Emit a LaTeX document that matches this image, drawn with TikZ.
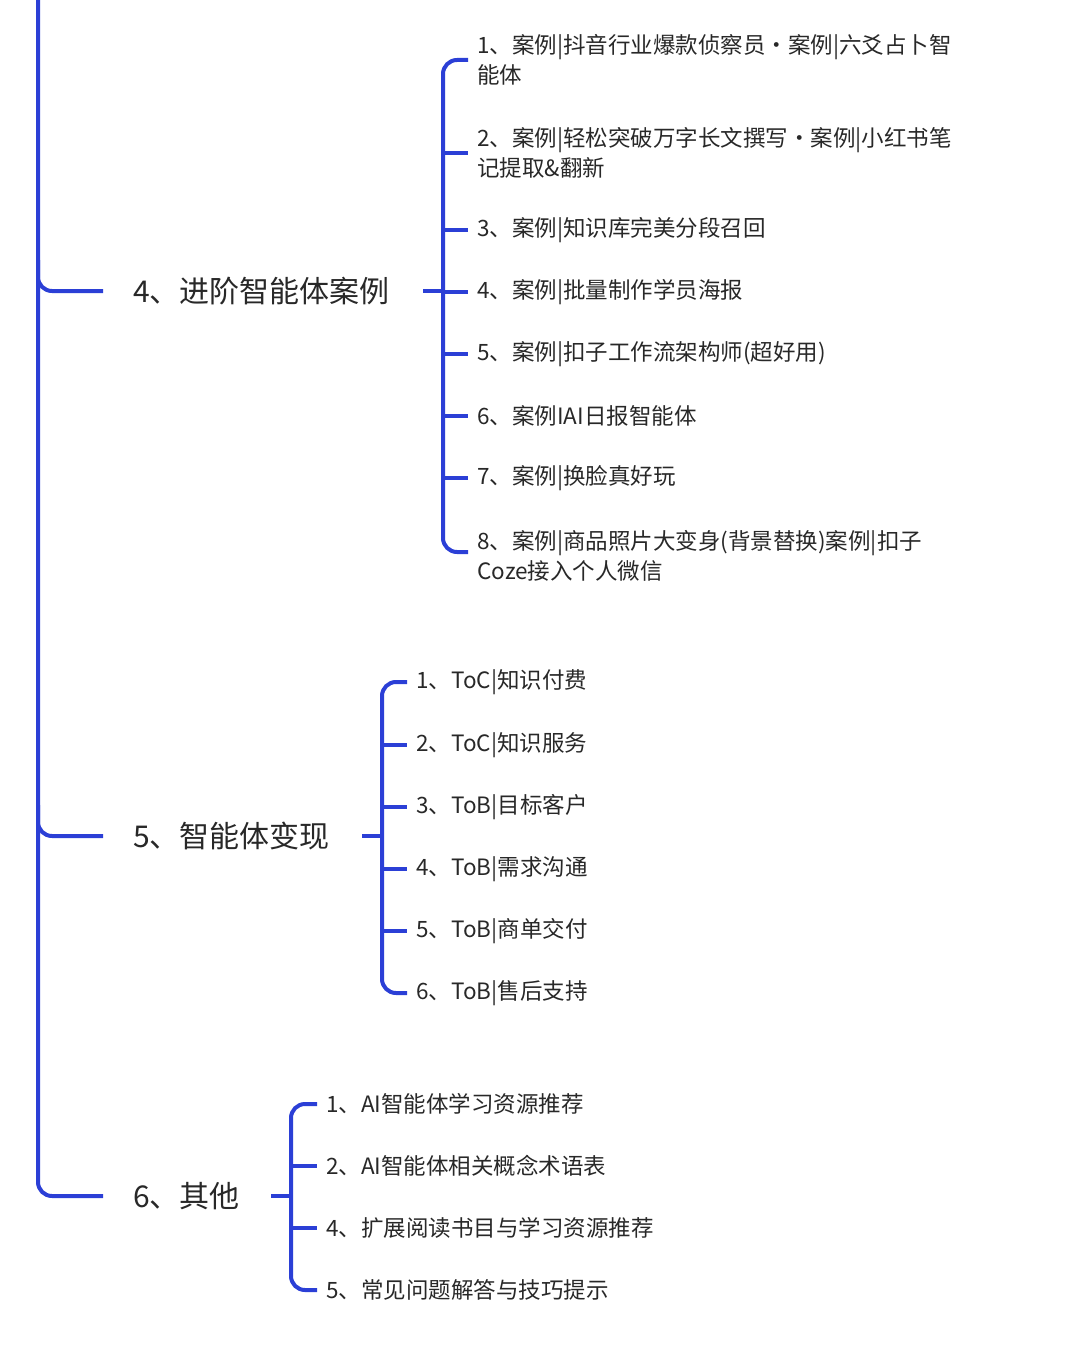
\documentclass[tikz,border=0pt]{standalone}
\usepackage{fontspec}
\setmainfont{Noto Sans CJK SC}
\begin{document}
\begin{tikzpicture}[x=1pt,y=-1pt,
  ln/.style={draw={rgb,255:red,43;green,63;blue,214},line width=4pt},
  big/.style={anchor=west,inner sep=0pt,font=\fontsize{30}{34}\selectfont,text={rgb,255:red,40;green,40;blue,40}},
  it/.style={anchor=west,inner sep=0pt,align=left,font=\fontsize{22.5}{30.5}\selectfont,text={rgb,255:red,40;green,40;blue,40}}]
\useasboundingbox (0,0) rectangle (1080,1351);
% level 1
\node[big] (a) at (133,291) {4、进阶智能体案例};
\node[big] (b) at (133,836) {5、智能体变现};
\node[big] (c) at (133,1196) {6、其他};
\draw[ln,rounded corners=14] (38,-5) -- (38,1196) -- ([xshift=-30]c.west);
\draw[ln,rounded corners=14] (38,260) -- (38,291) -- ([xshift=-30]a.west);
\draw[ln,rounded corners=14] (38,805) -- (38,836) -- ([xshift=-30]b.west);
% group 1
\node[it] (a1) at (477,60) {1、案例|抖音行业爆款侦察员·案例|六爻占卜智\\能体};
\node[it] (a2) at (477,153) {2、案例|轻松突破万字长文撰写·案例|小红书笔\\记提取\&翻新};
\node[it] (a3) at (477,230) {3、案例|知识库完美分段召回};
\node[it] (a4) at (477,292) {4、案例|批量制作学员海报};
\node[it] (a5) at (477,354) {5、案例|扣子工作流架构师(超好用)};
\node[it] (a6) at (477,416) {6、案例IAI日报智能体};
\node[it] (a7) at (477,478) {7、案例|换脸真好玩};
\node[it] (a8) at (477,556) {8、案例|商品照片大变身(背景替换)案例|扣子\\Coze接入个人微信};
\draw[ln] (423,291) -- (443,291);
\draw[ln,rounded corners=14] ([xshift=-9]a1.west) -- (443,60) -- (443,552) -- (468,552);
\foreach \n in {a2,a3,a4,a5,a6,a7}{\draw[ln] (443,0 |- \n.west) -- ([xshift=-9]\n.west);}
% group 2
\node[it] (b1) at (416,682) {1、ToC|知识付费};
\node[it] (b2) at (416,745) {2、ToC|知识服务};
\node[it] (b3) at (416,807) {3、ToB|目标客户};
\node[it] (b4) at (416,869) {4、ToB|需求沟通};
\node[it] (b5) at (416,931) {5、ToB|商单交付};
\node[it] (b6) at (416,993) {6、ToB|售后支持};
\draw[ln] (362,836) -- (382,836);
\draw[ln,rounded corners=14] ([xshift=-9]b1.west) -- (382,682) -- (382,993) -- ([xshift=-9]b6.west);
\foreach \n in {b2,b3,b4,b5}{\draw[ln] (382,0 |- \n.west) -- ([xshift=-9]\n.west);}
% group 3
\node[it] (c1) at (326,1104) {1、AI智能体学习资源推荐};
\node[it] (c2) at (326,1166) {2、AI智能体相关概念术语表};
\node[it] (c3) at (326,1228) {4、扩展阅读书目与学习资源推荐};
\node[it] (c4) at (326,1290) {5、常见问题解答与技巧提示};
\draw[ln] (271,1196) -- (291,1196);
\draw[ln,rounded corners=14] ([xshift=-9]c1.west) -- (291,1104) -- (291,1290) -- ([xshift=-9]c4.west);
\foreach \n in {c2,c3}{\draw[ln] (291,0 |- \n.west) -- ([xshift=-9]\n.west);}
\end{tikzpicture}
\end{document}
